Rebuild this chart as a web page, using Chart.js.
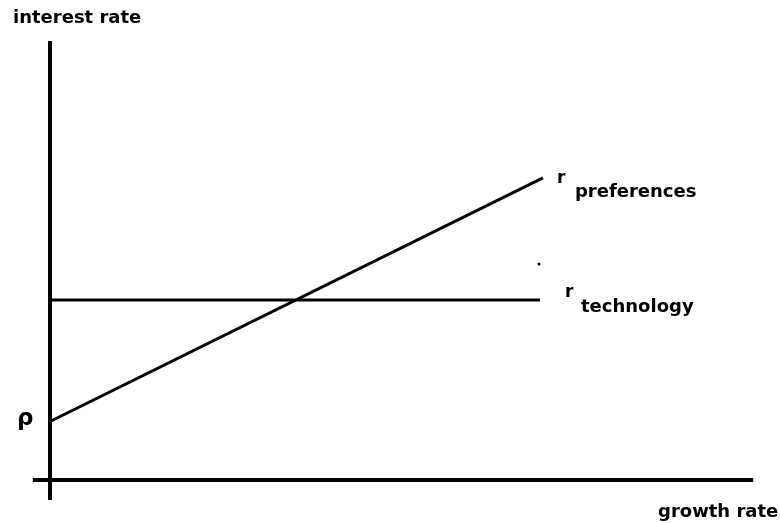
<!DOCTYPE html>
<html>
<head>
<meta charset="utf-8">
<script src="https://cdn.jsdelivr.net/npm/chart.js@4"></script>
<style>
  body { margin: 0; background: #fff; }
  #wrap { width: 780px; height: 523px; }
</style>
</head>
<body>
<div id="wrap"><canvas id="growthChart"></canvas></div>
<script>
// growth rate (x) and interest rate (y), arbitrary units
const rho = 1.95;
const techRate = 6.0;
const preferencesX = [0, 10.06];
const preferencesY = [rho, 10.07];
const technologyX = [0, 10];
const technologyY = [techRate, techRate];
const strayDot = [9.98, 7.2];

// axis extents (drawn as lines so they cross like in the sketch)
const yAxisRange = [-0.67, 14.63];
const xAxisRange = [-0.35, 14.35];

const axisTitles = ['interest rate', 'growth rate'];
const curveLabels = ['preferences', 'technology'];

function toPoints(xs, ys) {
    return xs.map((x, i) => ({ x: x, y: ys[i] }));
}

const FONT = '"DejaVu Sans", sans-serif';

// text labels drawn on top of the plot
const labelPlugin = {
    id: 'labels',
    afterDraw(chart) {
        const ctx = chart.ctx;
        const xs = chart.scales.x;
        const ys = chart.scales.y;
        ctx.save();
        ctx.fillStyle = '#000';
        ctx.textBaseline = 'alphabetic';
        ctx.textAlign = 'left';

        ctx.font = 'bold 18px ' + FONT;
        ctx.fillText(axisTitles[0], 13, 23);
        ctx.fillText(axisTitles[1], 658, 517);

        // rho on the y axis
        ctx.font = 'bold 23px ' + FONT;
        ctx.fillText('\u03c1', xs.getPixelForValue(0) - 33, ys.getPixelForValue(rho) + 3);

        // r preferences
        let px = xs.getPixelForValue(preferencesX[1]);
        let py = ys.getPixelForValue(preferencesY[1]);
        ctx.font = 'bold 17px ' + FONT;
        ctx.fillText('r', px + 14, py + 5);
        ctx.font = 'bold 18px ' + FONT;
        ctx.fillText(curveLabels[0], px + 32, py + 19);

        // r technology
        px = xs.getPixelForValue(technologyX[1]);
        py = ys.getPixelForValue(techRate);
        ctx.font = 'bold 17px ' + FONT;
        ctx.fillText('r', px + 25, py - 3);
        ctx.font = 'bold 18px ' + FONT;
        ctx.fillText(curveLabels[1], px + 41, py + 12);
        ctx.restore();
    }
};

new Chart('growthChart', {
    type: 'scatter',
    data: {
        datasets: [
            {
                label: 'y axis',
                data: toPoints([0, 0], yAxisRange),
                showLine: true,
                borderColor: '#000',
                borderWidth: 4,
                pointRadius: 0
            },
            {
                label: 'x axis',
                data: toPoints(xAxisRange, [0, 0]),
                showLine: true,
                borderColor: '#000',
                borderWidth: 4,
                pointRadius: 0
            },
            {
                label: 'r preferences',
                data: toPoints(preferencesX, preferencesY),
                showLine: true,
                borderColor: '#000',
                borderWidth: 3,
                pointRadius: 0
            },
            {
                label: 'r technology',
                data: toPoints(technologyX, technologyY),
                showLine: true,
                borderColor: '#000',
                borderWidth: 3,
                pointRadius: 0
            },
            {
                label: 'dot',
                data: [{ x: strayDot[0], y: strayDot[1] }],
                backgroundColor: '#000',
                borderWidth: 0,
                pointRadius: 1.5
            }
        ]
    },
    options: {
        responsive: true,
        maintainAspectRatio: false,
        animation: false,
        layout: { padding: 0, autoPadding: false },
        plugins: {
            legend: { display: false },
            tooltip: { enabled: false }
        },
        scales: {
            x: { type: 'linear', display: false, min: -50 / 49, max: 730 / 49 },
            y: { type: 'linear', display: false, min: -43 / 30, max: 16 }
        }
    },
    plugins: [labelPlugin]
});
</script>
</body>
</html>
